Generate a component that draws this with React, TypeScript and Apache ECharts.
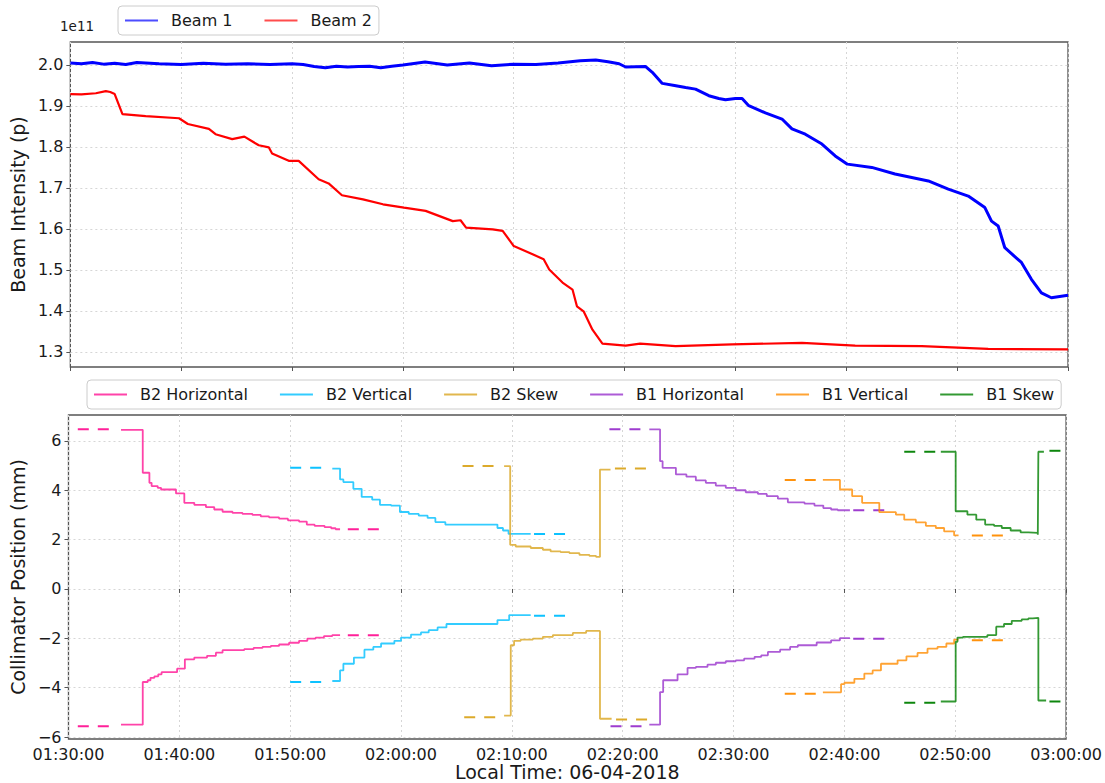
import React, { useEffect, useRef } from 'react';
import * as echarts from 'echarts';

// time in minutes after 01:30:00
const xTicks = [0, 10, 20, 30, 40, 50, 60, 70, 80, 90];
const intensityTicks = [1.3, 1.4, 1.5, 1.6, 1.7, 1.8, 1.9, 2.0];
const positionTicks = [-6, -4, -2, 0, 2, 4, 6];

const beam1: number[][] = [
  [0, 2.005], [1, 2.003], [2, 2.006], [3, 2.002], [4, 2.004], [5, 2.001], [6, 2.006], [8, 2.003],
  [10, 2.001], [12, 2.004], [14, 2.002], [16, 2.003], [18, 2.001], [20, 2.003], [21, 2.001],
  [22, 1.996], [23, 1.993], [24, 1.997], [25, 1.995], [26, 1.996], [27, 1.997], [28, 1.993],
  [29, 1.997], [30, 2.0], [32, 2.007], [34, 2.0], [36, 2.005], [38, 1.998], [40, 2.002],
  [42, 2.001], [44, 2.005], [46, 2.01], [47.4, 2.012], [48.5, 2.008], [49.5, 2.003], [50.1, 1.995],
  [51.9, 1.996], [52.5, 1.982], [53.4, 1.955], [54.5, 1.95], [55.5, 1.945], [56.4, 1.941],
  [57.6, 1.925], [58.5, 1.918], [59.1, 1.915], [60.0, 1.918], [60.6, 1.918], [61.2, 1.9005],
  [62.7, 1.883], [64.2, 1.868], [65.1, 1.844], [66.3, 1.831], [67.8, 1.807], [69.0, 1.778],
  [70.1, 1.758], [72.3, 1.75], [74.4, 1.734], [77.4, 1.717], [79.2, 1.697], [81.0, 1.68],
  [82.5, 1.652], [83.1, 1.619], [83.7, 1.607], [84.3, 1.554], [85.8, 1.518], [86.7, 1.477],
  [87.6, 1.444], [88.5, 1.432], [90, 1.438],
];

const beam2: number[][] = [
  [0, 1.929], [1, 1.928], [2.3, 1.931], [3.2, 1.936], [3.6, 1.934], [4.0, 1.929], [4.7, 1.88],
  [6.8, 1.875], [9.8, 1.87], [10.6, 1.856], [12.5, 1.844], [13.1, 1.831], [14.6, 1.819],
  [15.7, 1.825], [17.0, 1.804], [17.9, 1.799], [18.2, 1.784], [19.7, 1.766], [20.6, 1.766],
  [22.4, 1.721], [23.3, 1.711], [24.5, 1.682], [26.4, 1.672], [28.2, 1.66], [30.1, 1.652],
  [32.05, 1.644], [34.5, 1.619], [35.2, 1.621], [35.7, 1.603], [38.1, 1.599], [39.0, 1.595],
  [40.0, 1.558], [41.7, 1.538], [42.7, 1.526], [43.2, 1.501], [44.4, 1.469], [45.3, 1.452],
  [45.7, 1.411], [46.3, 1.399], [47.1, 1.354], [48.0, 1.32], [50.1, 1.315], [51.4, 1.32],
  [54.6, 1.314], [59.7, 1.318], [66.0, 1.322], [70.8, 1.315], [76.8, 1.314], [82.8, 1.307],
  [90, 1.306],
];

// collimator jaws: [time, position] steps (value holds until next time)
const b2hUpper: number[][] = [
  [4.74, 6.45], [6.7, 4.71], [7.3, 4.3], [7.5, 4.17], [8.05, 4.1], [8.35, 4.03], [9.7, 3.87],
  [10.45, 3.49], [11.35, 3.41], [12.4, 3.32], [13.15, 3.22], [13.9, 3.13], [14.8, 3.08],
  [15.7, 3.04], [16.6, 3.0], [17.35, 2.94], [18.1, 2.9], [19.0, 2.85], [19.8, 2.78], [20.8, 2.73],
  [21.5, 2.61], [22.2, 2.56], [23.1, 2.51], [23.7, 2.46], [24.1, 2.42], [24.5, 2.42],
];
const b2hLower: number[][] = [
  [4.74, -5.5], [6.7, -3.77], [7.15, -3.7], [7.4, -3.6], [7.75, -3.54], [8.1, -3.46], [8.4, -3.37],
  [9.8, -3.23], [10.5, -2.85], [11.35, -2.78], [12.5, -2.71], [13.3, -2.58], [13.9, -2.48],
  [15.85, -2.44], [16.7, -2.39], [17.5, -2.35], [18.25, -2.31], [19.0, -2.25], [19.9, -2.18],
  [20.8, -2.1], [21.55, -2.01], [22.3, -1.97], [23.05, -1.91], [23.8, -1.87], [24.5, -1.87],
];
// dashed set lines: [start, end, position]
const b2hDashes: number[][] = [[0.84, 3.78, 6.47], [25.2, 28.1, 2.42], [0.84, 3.78, -5.56], [25.2, 28.1, -1.88]];

const b2vUpper: number[][] = [
  [23.8, 4.88], [24.5, 4.44], [24.8, 4.33], [25.7, 4.06], [26.45, 3.73], [27.4, 3.62], [28.1, 3.41],
  [29.1, 3.38], [29.9, 3.12], [30.7, 3.04], [31.6, 2.97], [32.4, 2.88], [33.1, 2.71], [34.0, 2.61],
  [38.7, 2.47], [39.2, 2.37], [39.7, 2.23], [41.7, 2.23],
];
const b2vLower: number[][] = [
  [23.8, -3.73], [24.5, -3.3], [24.8, -3.03], [25.75, -2.78], [26.7, -2.46], [27.5, -2.35],
  [28.2, -2.21], [29.4, -2.1], [30.0, -1.97], [30.9, -1.85], [31.8, -1.76], [32.5, -1.67],
  [33.3, -1.56], [34.1, -1.42], [38.7, -1.26], [39.76, -1.06], [41.7, -1.06],
];
const b2vDashes: number[][] = [[20.0, 22.9, 4.91], [42.0, 45.0, 2.23], [20.0, 22.9, -3.77], [42.0, 45.0, -1.09]];

const b2sUpper: number[][] = [
  [39.3, 4.98], [39.85, 1.79], [40.35, 1.72], [41.7, 1.66], [42.8, 1.59], [43.5, 1.52], [44.4, 1.49],
  [45.2, 1.45], [46.1, 1.38], [47.0, 1.34], [47.6, 1.3], [47.95, 4.84], [48.9, 4.84],
];
const b2sLower: number[][] = [
  [39.3, -5.13], [39.9, -2.28], [40.2, -2.1], [40.8, -2.05], [41.9, -2.01], [42.8, -1.94],
  [43.7, -1.87], [45.5, -1.78], [46.7, -1.7], [47.95, -5.26], [49.0, -5.26],
];
const b2sDashes: number[][] = [[35.55, 38.56, 4.98], [49.3, 52.15, 4.88], [35.7, 38.56, -5.2], [49.4, 52.2, -5.29]];

const b1hUpper: number[][] = [
  [52.4, 6.47], [53.37, 5.18], [53.6, 4.91], [54.8, 4.64], [55.75, 4.55], [56.6, 4.4], [57.5, 4.3],
  [58.4, 4.19], [59.3, 4.1], [60.2, 4.0], [61.1, 3.92], [62.2, 3.85], [63.0, 3.76], [64.0, 3.66],
  [64.9, 3.51], [66.4, 3.46], [67.3, 3.38], [68.1, 3.28], [68.8, 3.22], [69.4, 3.19], [70.5, 3.19],
];
const b1hLower: number[][] = [
  [52.4, -5.5], [53.37, -4.18], [53.65, -3.7], [54.95, -3.46], [55.85, -3.2], [56.6, -3.16],
  [57.65, -3.07], [58.4, -2.99], [59.3, -2.93], [60.2, -2.89], [60.96, -2.82], [61.9, -2.75],
  [62.5, -2.69], [63.1, -2.55], [64.2, -2.46], [65.1, -2.35], [65.8, -2.28], [67.5, -2.17],
  [68.8, -2.08], [69.6, -1.99], [70.5, -1.99],
];
const b1hDashes: number[][] = [[48.8, 51.8, 6.47], [70.8, 73.75, 3.19], [48.9, 51.8, -5.56], [70.8, 73.75, -2.02]];

const b1vUpper: number[][] = [
  [68.06, 4.42], [69.6, 4.03], [70.7, 3.76], [71.6, 3.49], [73.15, 3.11], [74.65, 3.01], [75.4, 2.81],
  [76.45, 2.7], [77.35, 2.56], [78.25, 2.47], [79.0, 2.33], [79.9, 2.17], [80.3, 2.17],
];
const b1vLower: number[][] = [
  [68.06, -4.19], [69.7, -3.86], [70.0, -3.8], [70.9, -3.64], [71.8, -3.43], [72.55, -3.3],
  [73.3, -3.03], [74.8, -2.89], [75.6, -2.73], [76.6, -2.59], [77.5, -2.42], [78.4, -2.35],
  [79.2, -2.21], [79.9, -2.05], [80.3, -2.05],
];
const b1vDashes: number[][] = [[64.62, 67.47, 4.42], [81.5, 84.5, 2.17], [64.62, 67.47, -4.25], [81.5, 84.4, -2.08]];

const b1sUpper: number[][] = [
  [78.7, 5.56], [80.04, 3.15], [81.1, 3.01], [81.9, 2.81], [82.7, 2.61], [83.5, 2.56], [84.2, 2.47],
  [85.0, 2.37], [85.9, 2.29], [86.6, 2.27], [87.45, 2.2], [87.5, 5.56], [88.0, 5.56],
];
const b1sLower: number[][] = [
  [78.7, -4.56], [80.04, -2.14], [80.2, -1.97], [80.7, -1.94], [82.9, -1.87], [83.7, -1.53],
  [84.4, -1.42], [85.1, -1.29], [86.0, -1.23], [86.6, -1.19], [87.0, -1.17], [87.5, -4.52], [88.2, -4.52],
];
const b1sDashes: number[][] = [[75.4, 78.3, 5.56], [88.5, 90, 5.6], [75.4, 78.3, -4.61], [88.5, 90, -4.56]];

const collimatorNames = ['B2 Horizontal', 'B2 Vertical', 'B2 Skew', 'B1 Horizontal', 'B1 Vertical', 'B1 Skew'];
const collimatorColors = ['#ff1493', '#00bfff', '#daa520', '#9932cc', '#ff8c00', '#008000'];
const collimatorUppers = [b2hUpper, b2vUpper, b2sUpper, b1hUpper, b1vUpper, b1sUpper];
const collimatorLowers = [b2hLower, b2vLower, b2sLower, b1hLower, b1vLower, b1sLower];
const collimatorDashes = [b2hDashes, b2vDashes, b2sDashes, b1hDashes, b1vDashes, b1sDashes];

const FONT = 'DejaVu Sans';
const TEXT = '#1a1a1a';
const FRAME = '#555555';
const GRIDLINE = { show: true, lineStyle: { color: '#d6d6d6', type: [2, 3] as any, width: 1 } };

const fmtTime = (v: number) => {
  const total = 90 + Math.round(v);
  const h = Math.floor(total / 60);
  const m = total % 60;
  return `${String(h).padStart(2, '0')}:${String(m).padStart(2, '0')}:00`;
};
const fmtPos = (v: number) => (v < 0 ? '\u2212' + Math.abs(v) : String(v));

export default function App() {
  const ref = useRef<HTMLDivElement>(null);
  useEffect(() => {
    document.body.style.margin = '0';
    if (!ref.current) return;
    const chart = echarts.init(ref.current, undefined, { renderer: 'svg' });

    const series: any[] = [
      {
        name: 'Beam 1', type: 'line', xAxisIndex: 0, yAxisIndex: 0, data: beam1, symbol: 'none',
        color: '#0000ff', lineStyle: { color: '#0000ff', width: 3 }, silent: true, z: 3,
      },
      {
        name: 'Beam 2', type: 'line', xAxisIndex: 0, yAxisIndex: 0, data: beam2, symbol: 'none',
        color: '#ff0000', lineStyle: { color: '#ff0000', width: 2.2 }, silent: true, z: 3,
      },
    ];

    collimatorNames.forEach((name, i) => {
      const color = collimatorColors[i];
      [collimatorUppers[i], collimatorLowers[i]].forEach((steps) => {
        series.push({
          name, type: 'line', xAxisIndex: 1, yAxisIndex: 1, data: steps, step: 'end', symbol: 'none',
          color, lineStyle: { color, width: 1.8, opacity: 0.8 }, silent: true, z: 3,
        });
      });
      collimatorDashes[i].forEach((d) => {
        series.push({
          name, type: 'line', xAxisIndex: 1, yAxisIndex: 1, data: [[d[0], d[2]], [d[1], d[2]]],
          symbol: 'none', color,
          lineStyle: { color, width: 2, type: [11, 9], opacity: 0.95 }, silent: true, z: 3,
        });
      });
    });

    const legendBase = {
      orient: 'horizontal',
      icon: 'rect',
      itemWidth: 33,
      itemHeight: 2,
      itemGap: 32,
      padding: [6, 7],
      borderColor: '#cccccc',
      borderWidth: 1,
      borderRadius: 4,
      backgroundColor: '#ffffff',
      textStyle: { fontFamily: FONT, fontSize: 16, color: TEXT, padding: [0, 0, 0, 8], lineHeight: 17 },
      selectedMode: false,
    };

    const xBase = (gridIndex: number, showLabel: boolean) => ({
      type: 'value', gridIndex, min: 0, max: 90, interval: 10,
      axisLine: { show: false },
      axisTick: { show: true, length: 4, lineStyle: { color: FRAME, width: 1 } },
      splitLine: GRIDLINE,
      axisLabel: {
        show: showLabel, formatter: fmtTime, fontFamily: FONT, fontSize: 16, color: TEXT, margin: 7,
        showMinLabel: true, showMaxLabel: true,
      },
      ...(showLabel
        ? {
            name: 'Local Time: 06-04-2018', nameLocation: 'middle', nameGap: 23,
            nameTextStyle: { fontFamily: FONT, fontSize: 19, color: TEXT },
          }
        : {}),
    });

    const option: any = {
      animation: false,
      backgroundColor: '#ffffff',
      textStyle: { fontFamily: FONT },
      grid: [
        { left: 68, top: 42, width: 1000, height: 325, show: true, borderColor: FRAME, borderWidth: 1.3, backgroundColor: 'transparent' },
        { left: 68, top: 415, width: 1000, height: 324, show: true, borderColor: FRAME, borderWidth: 1.3, backgroundColor: 'transparent' },
      ],
      legend: [
        {
          ...legendBase, left: 118, top: 6,
          data: [
            { name: 'Beam 1', itemStyle: { color: '#4d4dff' } },
            { name: 'Beam 2', itemStyle: { color: '#ff4d4d' } },
          ],
        },
        {
          ...legendBase, left: 87, top: 380,
          data: collimatorNames.map((n, i) => ({
            name: n, itemStyle: { color: collimatorColors[i], opacity: 0.8 },
          })),
        },
      ],
      xAxis: [xBase(0, false), xBase(1, true)],
      yAxis: [
        {
          type: 'value', gridIndex: 0, min: 1.263, max: 2.056,
          axisLine: { show: false },
          axisTick: { show: true, length: 4, customValues: intensityTicks, lineStyle: { color: FRAME } },
          axisLabel: {
            customValues: intensityTicks, formatter: (v: number) => v.toFixed(1),
            fontFamily: FONT, fontSize: 16, color: TEXT, margin: 7,
          },
          splitLine: GRIDLINE,
          name: 'Beam Intensity (p)', nameLocation: 'middle', nameGap: 36,
          nameTextStyle: { fontFamily: FONT, fontSize: 19, color: TEXT },
        },
        {
          type: 'value', gridIndex: 1, min: -6.08, max: 7.05,
          axisLine: { show: false },
          axisTick: { show: true, length: 4, customValues: positionTicks, lineStyle: { color: FRAME } },
          axisLabel: {
            customValues: positionTicks, formatter: fmtPos,
            fontFamily: FONT, fontSize: 16, color: TEXT, margin: 7,
          },
          splitLine: GRIDLINE,
          name: 'Collimator Position (mm)', nameLocation: 'middle', nameGap: 36,
          nameTextStyle: { fontFamily: FONT, fontSize: 19, color: TEXT },
        },
      ],
      graphic: [
        {
          type: 'text', left: 60, top: 19,
          style: { text: '1e11', fontFamily: FONT, fontSize: 13.5, fill: TEXT },
        },
      ],
      series,
    };

    chart.setOption(option);
    return () => chart.dispose();
  }, []);

  return <div ref={ref} style={{ width: 1105, height: 783 }} />;
}
